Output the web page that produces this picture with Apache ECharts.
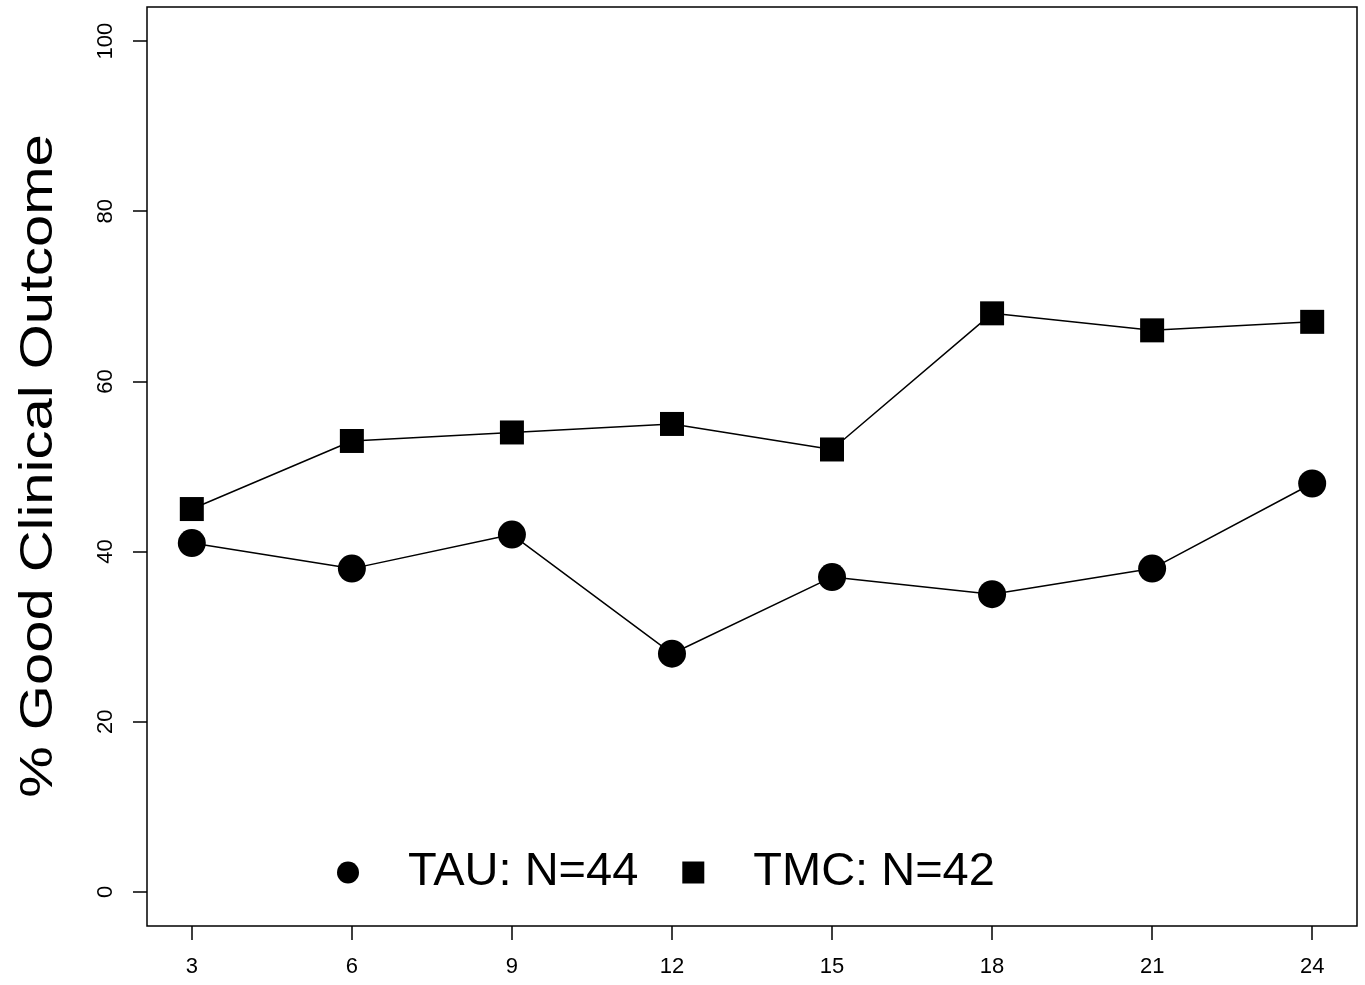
<!DOCTYPE html>
<html>
<head>
<meta charset="utf-8">
<script src="https://cdn.jsdelivr.net/npm/echarts@6/dist/echarts.min.js"></script>
<style>
html,body{margin:0;padding:0;background:#fff;}
#chart{width:1365px;height:985px;}
</style>
</head>
<body>
<div id="chart"></div>
<script>
const months = [3, 6, 9, 12, 15, 18, 21, 24];
const tauValues = [41, 38, 42, 28, 37, 35, 38, 48];
const tmcValues = [45, 53, 54, 55, 52, 68, 66, 67];
const xTicks = [3, 6, 9, 12, 15, 18, 21, 24];
const yTicks = [0, 20, 40, 60, 80, 100];
const tauName = 'TAU: N=44';
const tmcName = 'TMC: N=42';
const yTitle = '% Good Clinical Outcome';

const FONT = "'Liberation Sans', Arial, Helvetica, sans-serif";
const chart = echarts.init(document.getElementById('chart'), null, {renderer: 'canvas'});

const pairs = (xs, ys) => xs.map((x, i) => [x, ys[i]]);

chart.setOption({
  animation: false,
  backgroundColor: '#fff',
  grid: {
    left: 147, right: 8, top: 7, bottom: 59,
    show: true, borderColor: '#000', borderWidth: 1.5, backgroundColor: 'transparent'
  },
  xAxis: {
    type: 'value', min: 2.16, max: 24.84,
    axisLine: {show: false, onZero: false},
    splitLine: {show: false},
    axisTick: {show: true, length: 14, lineStyle: {color: '#000', width: 1.5}, customValues: xTicks},
    axisLabel: {show: true, margin: 30, fontSize: 22, color: '#000', fontFamily: FONT, customValues: xTicks}
  },
  yAxis: {
    type: 'value', min: -4, max: 104,
    axisLine: {show: false, onZero: false},
    splitLine: {show: false},
    axisTick: {show: true, length: 14, lineStyle: {color: '#000', width: 1.5}, customValues: yTicks},
    axisLabel: {show: true, rotate: 90, margin: 30, fontSize: 22, color: '#000', fontFamily: FONT, customValues: yTicks}
  },
  legend: {
    left: 332, top: 844,
    itemWidth: 22, itemHeight: 22, itemGap: 44,
    data: [{name: tauName, icon: 'circle'}, {name: tmcName, icon: 'rect'}],
    textStyle: {fontSize: 47, lineHeight: 46, color: '#000', fontFamily: FONT, padding: [0, 0, 0, 44]},
    selectedMode: false
  },
  graphic: [{
    type: 'text',
    x: 39, y: 466,
    rotation: Math.PI / 2,
    scaleX: 1.26,
    style: {text: yTitle, fontSize: 46, fontFamily: FONT, fill: '#000', align: 'center', verticalAlign: 'middle'}
  }],
  series: [
    {
      name: tauName, type: 'line', data: pairs(months, tauValues),
      symbol: 'circle', symbolSize: 28,
      itemStyle: {color: '#000'}, lineStyle: {color: '#000', width: 1.5}
    },
    {
      name: tmcName, type: 'line', data: pairs(months, tmcValues),
      symbol: 'rect', symbolSize: 24,
      itemStyle: {color: '#000'}, lineStyle: {color: '#000', width: 1.5}
    }
  ]
});
</script>
</body>
</html>
